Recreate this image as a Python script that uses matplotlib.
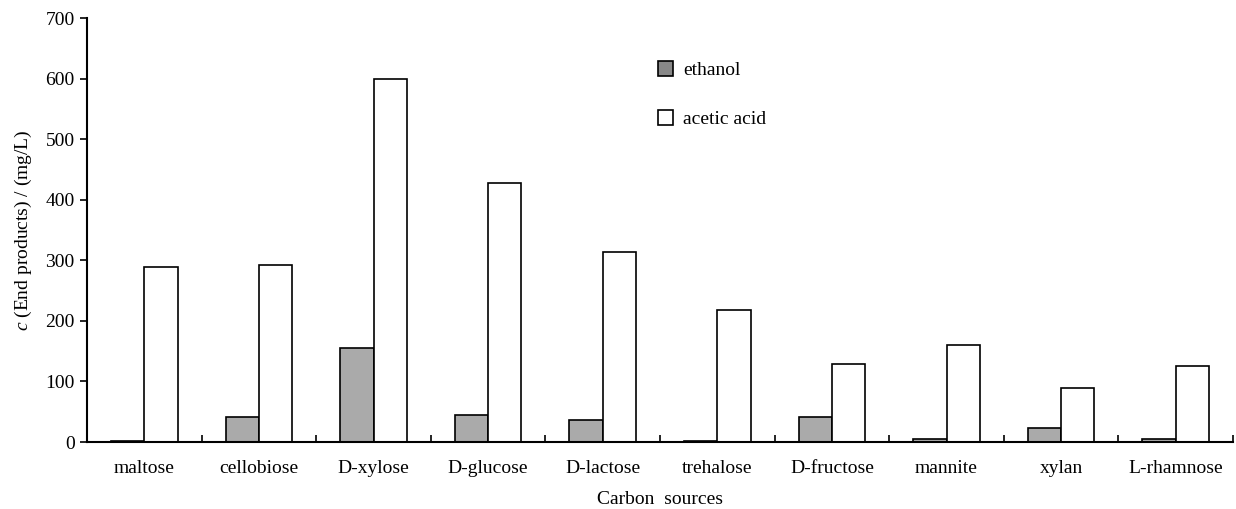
import matplotlib.pyplot as plt
import numpy as np
from matplotlib.patches import Patch

plt.rcParams['font.family'] = 'Liberation Serif'
plt.rcParams['mathtext.fontset'] = 'custom'
plt.rcParams['mathtext.it'] = 'Liberation Serif:italic'
plt.rcParams['mathtext.rm'] = 'Liberation Serif'

# data
sources = ['maltose', 'cellobiose', 'D-xylose', 'D-glucose', 'D-lactose',
           'trehalose', 'D-fructose', 'mannite', 'xylan', 'L-rhamnose']
ethanol = [2, 41, 155, 44, 36, 2, 42, 5, 23, 5]
acetic = [289, 292, 600, 427, 313, 218, 128, 160, 89, 125]

fig = plt.figure(figsize=(12.36, 5.09), dpi=100)
ax = fig.add_axes([0.0704, 0.1316, 0.9272, 0.833])

x = np.arange(len(sources)) + 0.5
w = 0.29
ax.bar(x - w / 2, ethanol, w, color='#aaaaaa', edgecolor='black', linewidth=1.2)
ax.bar(x + w / 2, acetic, w, color='white', edgecolor='black', linewidth=1.2)

ax.set_xlim(0, 10)
ax.set_ylim(0, 700)
ax.set_yticks(np.arange(0, 701, 100))
ax.tick_params(axis='y', direction='out', length=5, width=1.2, labelsize=14, pad=4)

# category labels between boundary ticks
ax.set_xticks(np.arange(1, 11))
ax.set_xticklabels([])
ax.tick_params(axis='x', direction='in', length=5, width=1.2)
ax.set_xticks(x, minor=True)
ax.set_xticklabels(sources, minor=True, fontsize=14)
ax.tick_params(axis='x', which='minor', length=0, pad=13)

for s in ['top', 'right']:
    ax.spines[s].set_visible(False)
for s in ['left', 'bottom']:
    ax.spines[s].set_linewidth(1.5)

ax.set_ylabel(r'$c$ (End products) / (mg/L)', fontsize=14, labelpad=8)
ax.set_xlabel('Carbon  sources', fontsize=14, labelpad=10)

handles = [Patch(facecolor='#888888', edgecolor='black', linewidth=1.2),
           Patch(facecolor='white', edgecolor='black', linewidth=1.2)]
fig.legend(handles, ['ethanol', 'acetic acid'], loc='upper left',
           bbox_to_anchor=(0.518, 0.915), frameon=False, fontsize=14,
           handlelength=0.8, handleheight=0.8, handletextpad=0.5,
           labelspacing=1.6)

fig.savefig('out.png', dpi=100)
